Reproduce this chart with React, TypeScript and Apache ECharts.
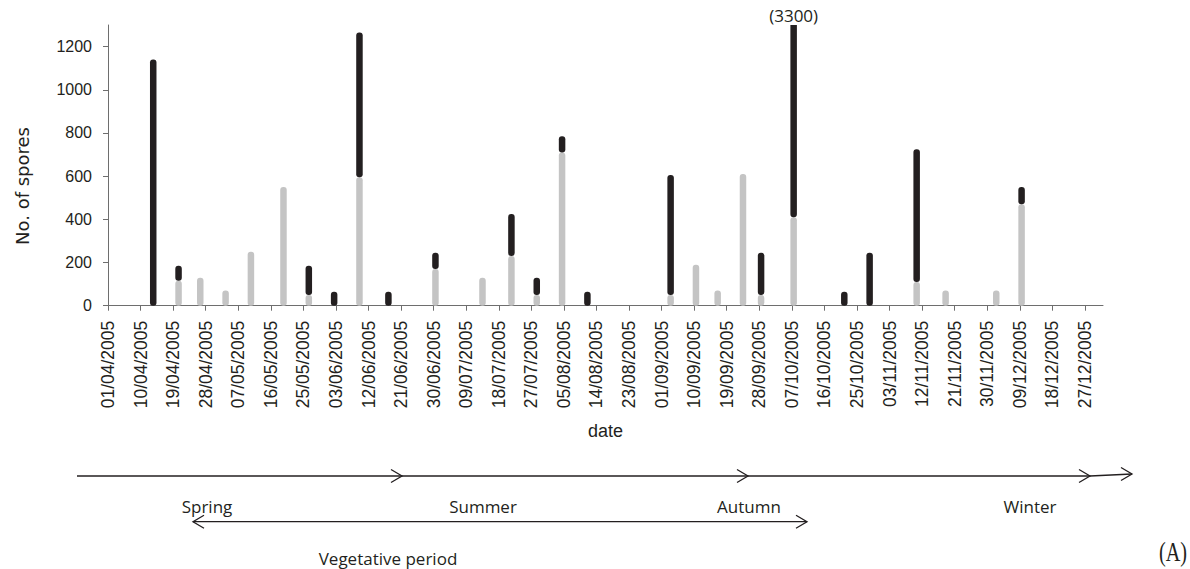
import React, { useEffect, useRef } from 'react';
import * as echarts from 'echarts';

// ---- data ----
const tickLabels = [
  '01/04/2005', '10/04/2005', '19/04/2005', '28/04/2005', '07/05/2005', '16/05/2005',
  '25/05/2005', '03/06/2005', '12/06/2005', '21/06/2005', '30/06/2005', '09/07/2005',
  '18/07/2005', '27/07/2005', '05/08/2005', '14/08/2005', '23/08/2005', '01/09/2005',
  '10/09/2005', '19/09/2005', '28/09/2005', '07/10/2005', '16/10/2005', '25/10/2005',
  '03/11/2005', '12/11/2005', '21/11/2005', '30/11/2005', '09/12/2005', '18/12/2005',
  '27/12/2005',
];
const axisEndDate = '01/01/2006';

const sampleDates = [
  '13/04/2005', '20/04/2005', '26/04/2005', '03/05/2005', '10/05/2005', '19/05/2005',
  '26/05/2005', '02/06/2005', '09/06/2005', '17/06/2005', '30/06/2005', '13/07/2005',
  '21/07/2005', '28/07/2005', '04/08/2005', '11/08/2005', '03/09/2005', '10/09/2005',
  '16/09/2005', '23/09/2005', '28/09/2005', '07/10/2005', '21/10/2005', '28/10/2005',
  '10/11/2005', '18/11/2005', '02/12/2005', '09/12/2005',
];
// lower (grey, hatched) part of each bar
const greyValues = [
  0, 115, 130, 70, 250, 550, 50, 0, 595, 0,
  170, 130, 230, 50, 710, 0, 50, 190, 70, 610,
  50, 410, 0, 0, 110, 70, 70, 470,
];
// upper (black) part of each bar, stacked on the grey part
const blackValues = [
  1140, 70, 0, 0, 0, 0, 135, 65, 670, 65,
  75, 0, 195, 80, 75, 65, 555, 0, 0, 0,
  195, 2890, 65, 245, 615, 0, 0, 80,
];
const yTicks = [0, 200, 400, 600, 800, 1000, 1200];
const yMax = 1300;

const seasonLabels = ['Spring', 'Summer', 'Autumn', 'Winter'];
const periodLabel = 'Vegetative period';

// ---- helpers ----
const parseUTC = (s: string) => {
  const [d, m, y] = s.split('/').map(Number);
  return Date.UTC(y, m - 1, d);
};
const origin = parseUTC(tickLabels[0]);
const toDay = (s: string) => (parseUTC(s) - origin) / 86400000;

const INK = '#231f20';
const AXIS = '#6e6e6e';
const GREY = '#c4c4c4';
const BAR_W = 6.5;

function makeRenderItem(fill: string) {
  return (params: any, api: any) => {
    const x = api.value(0);
    const lo = api.value(1);
    const hi = api.value(2);
    if (!(hi > lo)) return null;
    const cs = params.coordSys;
    const p0 = api.coord([x, lo]);
    const p1 = api.coord([x, hi]);
    const clipped = p1[1] < cs.y;
    const top = clipped ? cs.y : p1[1];
    const rect = {
      type: 'rect',
      shape: {
        x: p0[0] - BAR_W / 2,
        y: top,
        width: BAR_W,
        height: p0[1] - top,
        r: clipped ? [0, 0, 3, 3] : 3,
      },
      style: { fill },
    };
    if (!clipped) return rect;
    return {
      type: 'group',
      children: [
        rect,
        {
          type: 'text',
          x: p0[0],
          y: cs.y - 1,
          style: {
            text: `(${hi})`,
            fontFamily: 'Open Sans',
            fontSize: 17,
            fill: INK,
            align: 'center',
            verticalAlign: 'bottom',
          },
        },
      ],
    };
  };
}

function buildOption() {
  const tickDays = tickLabels.map(toDay);
  const xMax = toDay(axisEndDate);
  const xs = sampleDates.map((d) => toDay(d) + 0.5); // Excel date axis: centre of the day

  const greyData = xs.map((x, i) => [x, 0, greyValues[i]]);
  const blackData = xs.map((x, i) => [x, greyValues[i], greyValues[i] + blackValues[i]]);

  const chev = (tip: number, y: number, dir: 1 | -1) => ({
    type: 'polyline',
    shape: { points: [[tip - dir * 11, y - 6.5], [tip, y], [tip - dir * 11, y + 6.5]] },
    style: { stroke: INK, lineWidth: 1.3, fill: null },
  });
  const annText = (text: string, x: number, y: number) => ({
    type: 'text',
    x,
    y,
    style: {
      text,
      fontFamily: 'Open Sans',
      fontSize: 17,
      fill: INK,
      align: 'center',
      verticalAlign: 'middle',
    },
  });
  const seasonX = [207, 483, 749, 1030];

  return {
    animation: false,
    backgroundColor: '#ffffff',
    grid: { left: 108, top: 25, width: 995, bottom: 263.3, containLabel: false, outerBoundsMode: 'none' },
    xAxis: {
      type: 'value',
      min: 0,
      max: xMax,
      splitLine: { show: false },
      axisLine: { show: true, onZero: false, lineStyle: { color: AXIS, width: 1 } },
      axisTick: { show: true, length: 5, customValues: tickDays, lineStyle: { color: AXIS } },
      axisLabel: {
        customValues: tickDays,
        rotate: 90,
        margin: 15,
        fontSize: 17.5,
        fontFamily: 'Liberation Sans',
        color: INK,
        formatter: (v: number) => {
          const i = tickDays.indexOf(v);
          return i >= 0 ? tickLabels[i] : '';
        },
      },
      name: 'date',
      nameLocation: 'middle',
      nameGap: 116,
      nameTextStyle: { fontSize: 18, fontFamily: 'Liberation Sans', color: INK },
    },
    yAxis: {
      type: 'value',
      min: 0,
      max: yMax,
      splitLine: { show: false },
      axisLine: { show: true, lineStyle: { color: AXIS, width: 1 } },
      axisTick: { show: true, length: 5, customValues: yTicks, lineStyle: { color: AXIS } },
      axisLabel: {
        customValues: yTicks,
        margin: 16,
        fontSize: 16,
        fontFamily: 'Liberation Sans',
        color: INK,
        formatter: (v: number) => String(v),
      },
    },
    series: [
      {
        type: 'custom',
        name: 'grey',
        clip: false,
        data: greyData,
        encode: { x: 0, y: [1, 2] },
        renderItem: makeRenderItem(GREY),
      },
      {
        type: 'custom',
        name: 'black',
        clip: false,
        data: blackData,
        encode: { x: 0, y: [1, 2] },
        renderItem: makeRenderItem(INK),
      },
    ],
    graphic: [
      {
        type: 'text',
        x: 22.5,
        y: 186,
        rotation: Math.PI / 2,
        style: {
          text: 'No. of spores',
          fontFamily: 'DejaVu Sans',
          fontSize: 18,
          fill: INK,
          align: 'center',
          verticalAlign: 'middle',
        },
      },
      // seasons arrow
      { type: 'line', shape: { x1: 77, y1: 476, x2: 1090, y2: 476 }, style: { stroke: INK, lineWidth: 1.3 } },
      { type: 'line', shape: { x1: 1090, y1: 476, x2: 1132, y2: 474 }, style: { stroke: INK, lineWidth: 1.3 } },
      chev(402, 476, 1),
      chev(748, 476, 1),
      chev(1090, 476, 1),
      chev(1132, 474, 1),
      ...seasonLabels.map((s, i) => annText(s, seasonX[i], 506.5)),
      // vegetative period double arrow
      { type: 'line', shape: { x1: 193, y1: 521.7, x2: 807, y2: 521.7 }, style: { stroke: INK, lineWidth: 1.3 } },
      chev(193, 521.7, -1),
      chev(807, 521.7, 1),
      annText(periodLabel, 388, 558),
      {
        type: 'text',
        x: 1187,
        y: 552,
        scaleX: 0.75,
        style: {
          text: '(A)',
          fontFamily: 'Liberation Serif',
          fontSize: 27,
          fill: INK,
          align: 'right',
          verticalAlign: 'middle',
        },
      },
    ],
  };
}

export default function App() {
  const ref = useRef<HTMLDivElement>(null);
  useEffect(() => {
    if (!ref.current) return;
    const chart = echarts.init(ref.current, undefined, { renderer: 'svg' });
    chart.setOption(buildOption() as any);
    return () => chart.dispose();
  }, []);
  return (
    <div
      ref={ref}
      style={{ position: 'fixed', left: 0, top: 0, width: 1190, height: 569, background: '#fff' }}
    />
  );
}
